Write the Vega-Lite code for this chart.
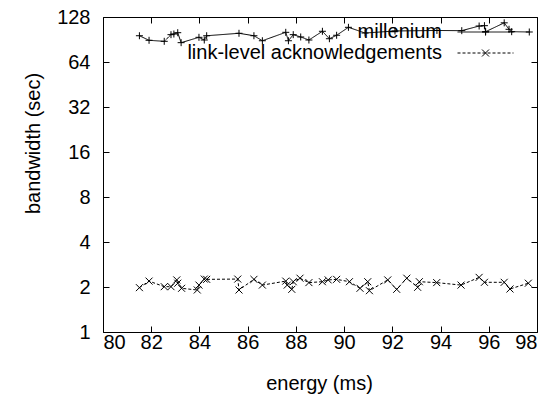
{
  "$schema": "https://vega.github.io/schema/vega-lite/v6.json",
  "width": 434,
  "height": 315,
  "autosize": {"type": "none"},
  "padding": {"left": 103, "top": 17, "right": 16, "bottom": 62},
  "background": "white",
  "config": {
    "font": "Liberation Sans",
    "view": {"stroke": "black", "strokeWidth": 1},
    "axis": {"grid": false, "domain": false, "tickColor": "black", "labelColor": "black", "titleColor": "black", "labelFontSize": 20, "titleFontSize": 20, "titleFontWeight": "normal", "labelFont": "Liberation Sans", "titleFont": "Liberation Sans"},
    "legend": {"labelFont": "Liberation Sans", "labelFontSize": 20, "labelColor": "black"}
  },
  "data": {"values": [
    {"series": "millenium", "energy": 81.51, "bandwidth": 95.9},
    {"series": "millenium", "energy": 81.91, "bandwidth": 89.4},
    {"series": "millenium", "energy": 82.54, "bandwidth": 88.0},
    {"series": "millenium", "energy": 82.82, "bandwidth": 97.5},
    {"series": "millenium", "energy": 82.94, "bandwidth": 98.5},
    {"series": "millenium", "energy": 83.10, "bandwidth": 100.5},
    {"series": "millenium", "energy": 83.24, "bandwidth": 86.2},
    {"series": "millenium", "energy": 83.98, "bandwidth": 93.6},
    {"series": "millenium", "energy": 84.20, "bandwidth": 89.8},
    {"series": "millenium", "energy": 84.30, "bandwidth": 95.9},
    {"series": "millenium", "energy": 85.64, "bandwidth": 99.6},
    {"series": "millenium", "energy": 86.26, "bandwidth": 95.9},
    {"series": "millenium", "energy": 86.61, "bandwidth": 88.8},
    {"series": "millenium", "energy": 87.58, "bandwidth": 101.1},
    {"series": "millenium", "energy": 87.69, "bandwidth": 88.8},
    {"series": "millenium", "energy": 87.89, "bandwidth": 97.5},
    {"series": "millenium", "energy": 88.20, "bandwidth": 94.1},
    {"series": "millenium", "energy": 88.54, "bandwidth": 89.8},
    {"series": "millenium", "energy": 89.10, "bandwidth": 102.7},
    {"series": "millenium", "energy": 89.39, "bandwidth": 91.6},
    {"series": "millenium", "energy": 89.69, "bandwidth": 96.6},
    {"series": "millenium", "energy": 90.18, "bandwidth": 109.2},
    {"series": "millenium", "energy": 90.87, "bandwidth": 100.0},
    {"series": "millenium", "energy": 92.11, "bandwidth": 103.2},
    {"series": "millenium", "energy": 93.85, "bandwidth": 104.0},
    {"series": "millenium", "energy": 94.88, "bandwidth": 103.7},
    {"series": "millenium", "energy": 95.60, "bandwidth": 111.4},
    {"series": "millenium", "energy": 95.82, "bandwidth": 112.0},
    {"series": "millenium", "energy": 95.87, "bandwidth": 102.1},
    {"series": "millenium", "energy": 96.64, "bandwidth": 117.0},
    {"series": "millenium", "energy": 96.84, "bandwidth": 105.9},
    {"series": "millenium", "energy": 96.95, "bandwidth": 102.1},
    {"series": "millenium", "energy": 97.68, "bandwidth": 101.6},
    {"series": "link-level acknowledgements", "energy": 81.51, "bandwidth": 1.98},
    {"series": "link-level acknowledgements", "energy": 81.91, "bandwidth": 2.19},
    {"series": "link-level acknowledgements", "energy": 82.54, "bandwidth": 2.01},
    {"series": "link-level acknowledgements", "energy": 82.82, "bandwidth": 2.01},
    {"series": "link-level acknowledgements", "energy": 83.06, "bandwidth": 2.23},
    {"series": "link-level acknowledgements", "energy": 83.10, "bandwidth": 2.12},
    {"series": "link-level acknowledgements", "energy": 83.26, "bandwidth": 1.96},
    {"series": "link-level acknowledgements", "energy": 83.91, "bandwidth": 1.91},
    {"series": "link-level acknowledgements", "energy": 83.98, "bandwidth": 2.06},
    {"series": "link-level acknowledgements", "energy": 84.20, "bandwidth": 2.26},
    {"series": "link-level acknowledgements", "energy": 84.30, "bandwidth": 2.25},
    {"series": "link-level acknowledgements", "energy": 85.59, "bandwidth": 2.26},
    {"series": "link-level acknowledgements", "energy": 85.64, "bandwidth": 1.91},
    {"series": "link-level acknowledgements", "energy": 86.26, "bandwidth": 2.25},
    {"series": "link-level acknowledgements", "energy": 86.61, "bandwidth": 2.06},
    {"series": "link-level acknowledgements", "energy": 87.58, "bandwidth": 2.19},
    {"series": "link-level acknowledgements", "energy": 87.64, "bandwidth": 2.06},
    {"series": "link-level acknowledgements", "energy": 87.83, "bandwidth": 1.93},
    {"series": "link-level acknowledgements", "energy": 87.89, "bandwidth": 2.17},
    {"series": "link-level acknowledgements", "energy": 88.17, "bandwidth": 2.29},
    {"series": "link-level acknowledgements", "energy": 88.54, "bandwidth": 2.14},
    {"series": "link-level acknowledgements", "energy": 89.10, "bandwidth": 2.17},
    {"series": "link-level acknowledgements", "energy": 89.34, "bandwidth": 2.23},
    {"series": "link-level acknowledgements", "energy": 89.69, "bandwidth": 2.25},
    {"series": "link-level acknowledgements", "energy": 90.22, "bandwidth": 2.17},
    {"series": "link-level acknowledgements", "energy": 90.66, "bandwidth": 1.96},
    {"series": "link-level acknowledgements", "energy": 90.98, "bandwidth": 2.17},
    {"series": "link-level acknowledgements", "energy": 91.05, "bandwidth": 1.89},
    {"series": "link-level acknowledgements", "energy": 91.81, "bandwidth": 2.23},
    {"series": "link-level acknowledgements", "energy": 92.18, "bandwidth": 1.93},
    {"series": "link-level acknowledgements", "energy": 92.60, "bandwidth": 2.29},
    {"series": "link-level acknowledgements", "energy": 93.05, "bandwidth": 1.99},
    {"series": "link-level acknowledgements", "energy": 93.12, "bandwidth": 2.17},
    {"series": "link-level acknowledgements", "energy": 93.84, "bandwidth": 2.14},
    {"series": "link-level acknowledgements", "energy": 94.85, "bandwidth": 2.06},
    {"series": "link-level acknowledgements", "energy": 95.60, "bandwidth": 2.32},
    {"series": "link-level acknowledgements", "energy": 95.82, "bandwidth": 2.15},
    {"series": "link-level acknowledgements", "energy": 96.64, "bandwidth": 2.15},
    {"series": "link-level acknowledgements", "energy": 96.88, "bandwidth": 1.94},
    {"series": "link-level acknowledgements", "energy": 97.64, "bandwidth": 2.12}
  ]},
  "layer": [
    {
      "mark": {"type": "line", "strokeWidth": 1, "color": "black"},
      "encoding": {
        "x": {"field": "energy", "type": "quantitative",
          "scale": {"domain": [80, 98], "nice": false, "zero": false},
          "axis": {"orient": "bottom", "title": "energy (ms)", "values": [80, 82, 84, 86, 88, 90, 92, 94, 96, 98], "tickSize": -6, "labelPadding": 6, "titleX": 216, "titleY": 57, "titleBaseline": "alphabetic", "titleAnchor": null}},
        "y": {"field": "bandwidth", "type": "quantitative",
          "scale": {"type": "log", "base": 2, "domain": [1, 128], "nice": false},
          "axis": {"orient": "left", "title": "bandwidth (sec)", "values": [1, 2, 4, 8, 16, 32, 64, 128], "format": "d", "tickSize": -6, "labelPadding": 19, "titleX": -64, "titleY": 126, "titleAngle": -90, "titleAlign": "center", "titleBaseline": "alphabetic"}},
        "strokeDash": {"field": "series", "type": "nominal",
          "scale": {"domain": ["millenium", "link-level acknowledgements"], "range": [[1, 0], [3, 2]]},
          "legend": {"orient": "none", "legendX": 372.5, "legendY": 5, "title": null, "padding": 0, "symbolType": "M-8,0L8,0", "symbolSize": 49, "symbolStrokeColor": "black", "symbolStrokeWidth": 1, "labelAlign": "right", "labelOffset": -53.5, "rowPadding": 1, "labelLimit": 400}}
      }
    },
    {
      "mark": {"type": "point", "filled": false, "strokeWidth": 1, "size": 49, "color": "black", "opacity": 1},
      "encoding": {
        "x": {"field": "energy", "type": "quantitative",
          "axis": {"orient": "top", "title": null, "labels": false, "values": [80, 82, 84, 86, 88, 90, 92, 94, 96, 98], "tickSize": -6}},
        "y": {"field": "bandwidth", "type": "quantitative",
          "axis": {"orient": "right", "title": null, "labels": false, "values": [1, 2, 4, 8, 16, 32, 64, 128], "tickSize": -6}},
        "shape": {"field": "series", "type": "nominal",
          "scale": {"domain": ["millenium", "link-level acknowledgements", "other"], "range": ["M-1,0L1,0M0,-1L0,1", "M-1,-1L1,1M-1,1L1,-1", "circle"]},
          "legend": {"orient": "none", "legendX": 372.5, "legendY": 5, "title": null, "padding": 0, "values": ["millenium", "link-level acknowledgements"], "symbolSize": 49, "symbolStrokeColor": "black", "symbolStrokeWidth": 1, "symbolFillColor": "transparent", "labelExpr": "''", "rowPadding": 1}}
      }
    }
  ],
  "resolve": {"axis": {"x": "independent", "y": "independent"}}
}
